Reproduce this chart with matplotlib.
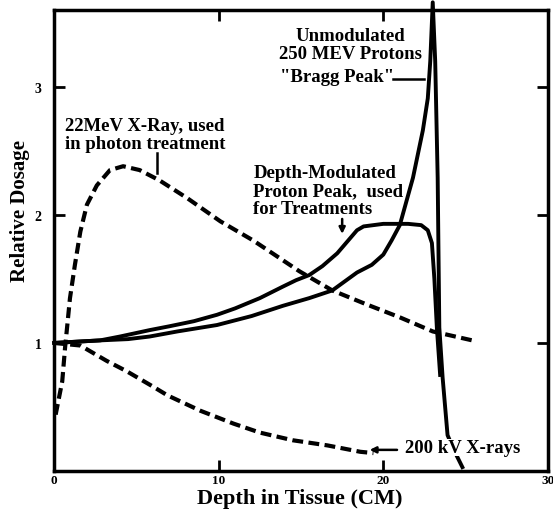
import matplotlib
matplotlib.use('Agg')
import matplotlib.pyplot as plt

plt.rcParams['font.family'] = ['Liberation Serif', 'DejaVu Serif']
plt.rcParams['font.weight'] = 'bold'

# ─── Data ────
# 22 MeV X-ray, dashed
xray22_x = [0.1, 0.5, 0.67, 0.97, 1.27, 1.6, 2.0, 2.6, 3.4, 4.2, 5.2, 6.4,
            8.1, 10.1, 12.1, 14.9, 16.9, 19.0, 21.0, 23.0, 25.4]
xray22_y = [0.44, 0.70, 0.96, 1.35, 1.61, 1.87, 2.08, 2.23, 2.35, 2.38, 2.35, 2.27,
            2.13, 1.95, 1.80, 1.56, 1.41, 1.30, 1.20, 1.09, 1.02]

# 200 kV X-rays, dashed
xray200_x = [0.0, 1.6, 3.2, 4.4, 6.0, 6.9, 8.9, 10.9, 12.5, 14.5, 16.6, 18.6, 19.4]
xray200_y = [1.0, 0.98, 0.86, 0.78, 0.66, 0.59, 0.47, 0.37, 0.30, 0.24, 0.20, 0.15, 0.14]

# unmodulated 250 MeV protons (Bragg peak), solid
bragg_x = [0.0, 2.8, 4.5, 5.8, 7.5, 9.9, 12.0, 13.9, 15.5, 16.9, 18.4, 19.3, 20.0,
           20.5, 21.0, 21.8, 22.4, 22.7, 22.85, 23.0, 23.15, 23.3, 23.4, 23.6,
           23.9, 24.3, 24.8]
bragg_y = [1.0, 1.02, 1.03, 1.05, 1.09, 1.14, 1.21, 1.29, 1.35, 1.41, 1.55, 1.61, 1.69,
           1.80, 1.92, 2.29, 2.66, 2.91, 3.2, 3.66, 3.2, 2.29, 1.12, 0.73,
           0.28, 0.16, 0.03]

# depth-modulated proton peak, solid
spread_x = [0.0, 2.8, 4.0, 5.8, 7.0, 8.5, 9.9, 11.0, 12.5, 13.9, 14.7, 15.5, 16.3,
            17.2, 17.6, 18.0, 18.4, 18.8, 20.0, 21.5, 22.3, 22.7, 22.95, 23.1,
            23.25, 23.45]
spread_y = [1.0, 1.02, 1.05, 1.10, 1.13, 1.17, 1.22, 1.27, 1.35, 1.44, 1.49, 1.53, 1.60,
            1.70, 1.76, 1.82, 1.88, 1.91, 1.93, 1.93, 1.92, 1.88, 1.78, 1.5,
            1.12, 0.75]

x_ticks = [0, 10, 20, 30]
y_ticks = [1, 2, 3]

fig = plt.figure(figsize=(5.53, 5.10), dpi=100)
ax = fig.add_axes([54 / 553, 1 - 472 / 510, 494 / 553, 461 / 510])

dash = (0, (2.6, 1.3))
ax.plot(xray22_x, xray22_y, color='black', lw=3, linestyle=dash)
ax.plot(xray200_x, xray200_y, color='black', lw=3, linestyle=dash)
ax.plot(bragg_x, bragg_y, color='black', lw=2.8, solid_joinstyle='round', clip_on=False)
ax.plot(spread_x, spread_y, color='black', lw=2.8, solid_joinstyle='round')

ax.set_xlim(0, 30)
ax.set_ylim(0, 3.6)
ax.set_xticks(x_ticks)
ax.set_yticks(y_ticks)
ax.tick_params(direction='in', length=8, width=2, top=True, right=True, labelsize=10)
ax.tick_params(axis='x', pad=2, labelsize=9.5)
ax.tick_params(axis='y', pad=9)
for lab in ax.get_xticklabels() + ax.get_yticklabels():
    lab.set_fontweight('bold')
for sp in ax.spines.values():
    sp.set_linewidth(2.5)

fig.text(300 / 553, 1 - 499 / 510, 'Depth in Tissue (CM)', fontsize=16,
         fontweight='bold', ha='center', va='center')
fig.text(20 / 553, 1 - 211 / 510, 'Relative Dosage', rotation=90, fontsize=15,
         fontweight='bold', ha='center', va='center')

# ─── Annotations ────
tkw = dict(fontsize=13.5, fontweight='bold', linespacing=1.05)
ax.text(0.67, 2.63, '22MeV X-Ray, used\nin photon treatment', ha='left', va='center', **tkw)
ax.plot([6.25, 6.25], [2.48, 2.33], color='black', lw=1.8)

ax.text(18.0, 3.33, 'Unmodulated\n250 MEV Protons', ha='center', va='center',
        multialignment='center', **tkw)
ax.text(17.2, 3.08, '"Bragg Peak"', ha='center', va='center', **tkw)
ax.plot([20.6, 22.5], [3.06, 3.06], color='black', lw=1.8)

ax.text(12.1, 2.19, 'Depth-Modulated\nProton Peak,  used\nfor Treatments', ha='left',
        va='center', **tkw)
ax.annotate('', xy=(17.5, 1.83), xytext=(17.5, 1.99),
            arrowprops=dict(arrowstyle='-|>', color='black', lw=1.8, mutation_scale=9))

ax.text(21.3, 0.18, '200 kV X-rays', ha='left', va='center', zorder=5,
        bbox=dict(facecolor='white', edgecolor='none', pad=0), **tkw)
ax.annotate('', xy=(19.0, 0.165), xytext=(21.0, 0.165),
            arrowprops=dict(arrowstyle='-|>', color='black', lw=1.8, mutation_scale=9))

plt.savefig('out.png', dpi=100)
